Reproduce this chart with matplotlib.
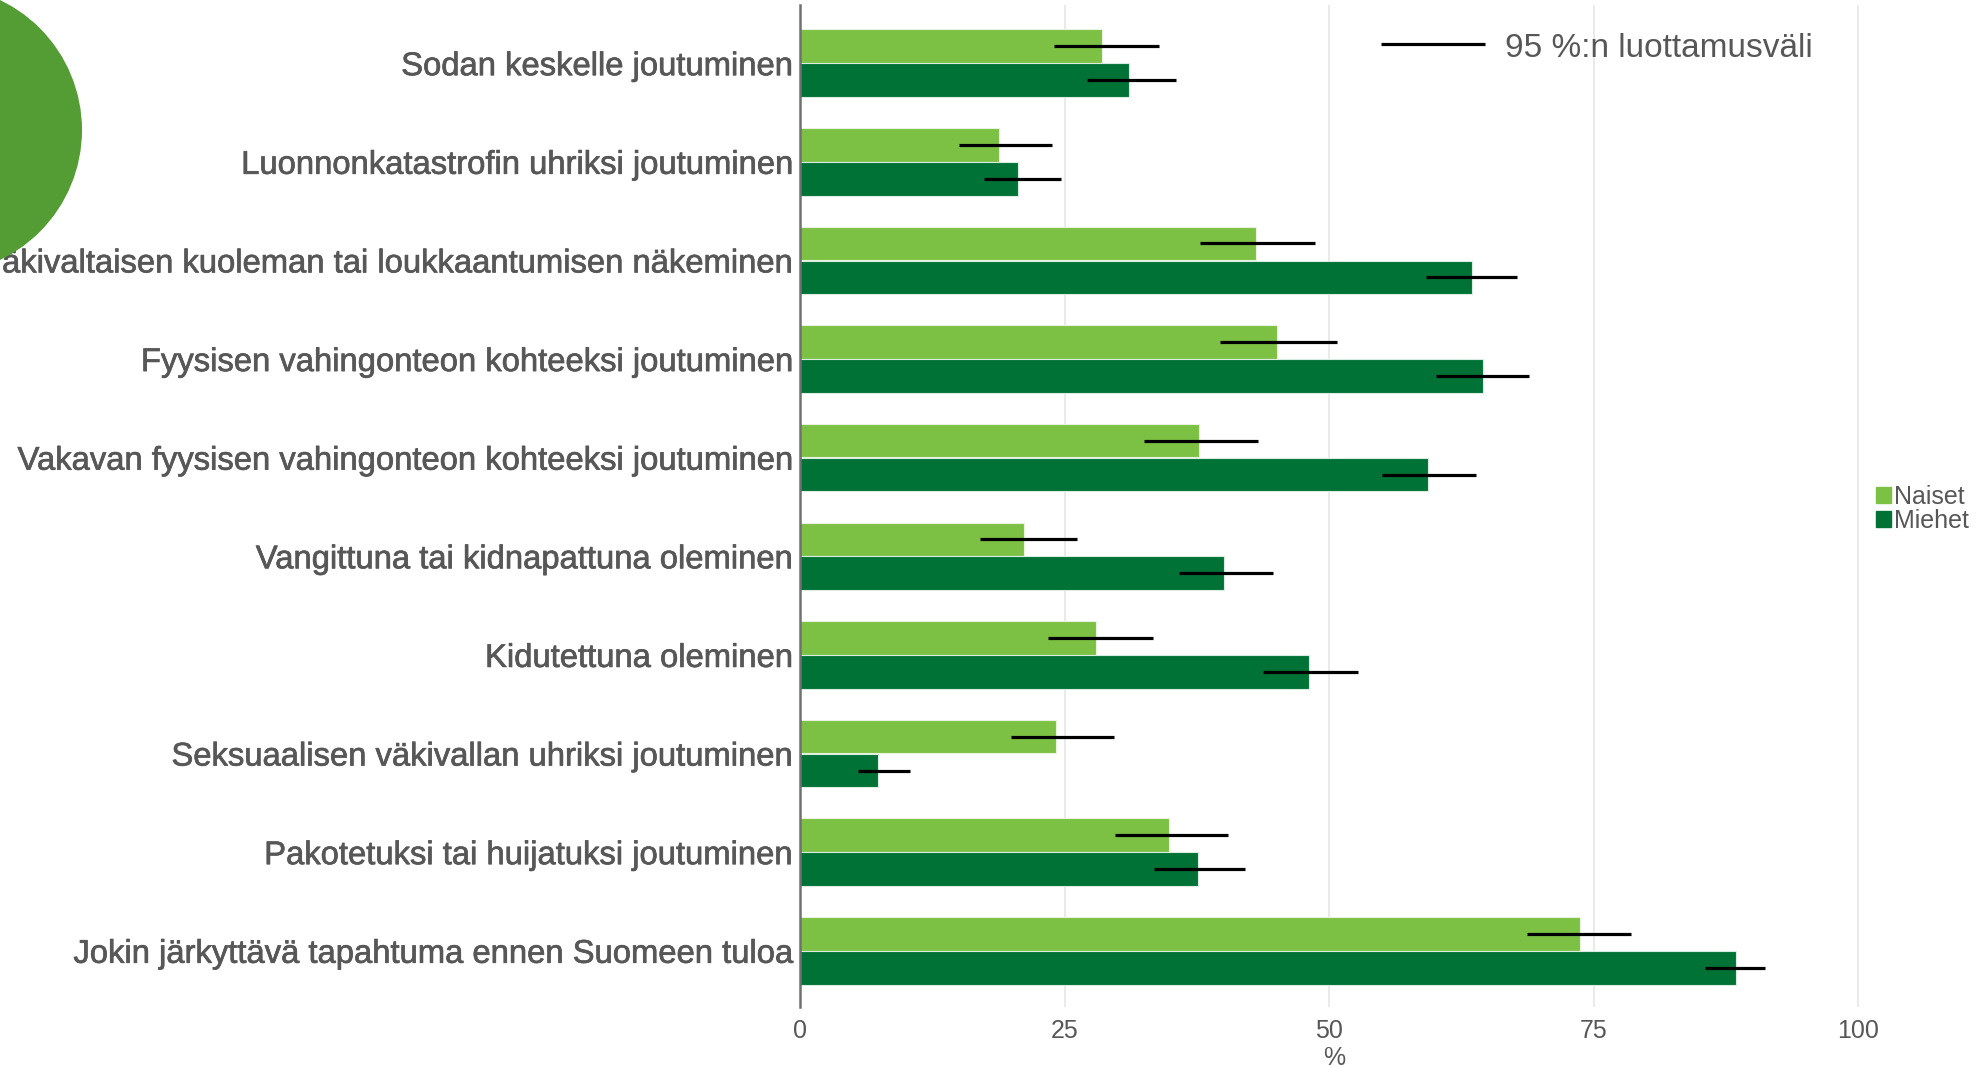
import matplotlib
matplotlib.use("Agg")
import matplotlib.pyplot as plt
import matplotlib.patheffects as pe
from matplotlib.patches import Ellipse, Patch
import numpy as np

# Tapahtumat (ylhäältä alas)
categories = [
    "Sodan keskelle joutuminen",
    "Luonnonkatastrofin uhriksi joutuminen",
    "Väkivaltaisen kuoleman tai loukkaantumisen näkeminen",
    "Fyysisen vahingonteon kohteeksi joutuminen",
    "Vakavan fyysisen vahingonteon kohteeksi joutuminen",
    "Vangittuna tai kidnapattuna oleminen",
    "Kidutettuna oleminen",
    "Seksuaalisen väkivallan uhriksi joutuminen",
    "Pakotetuksi tai huijatuksi joutuminen",
    "Jokin järkyttävä tapahtuma ennen Suomeen tuloa",
]

# Osuudet (%) ja 95 %:n luottamusvälit
naiset = [28.5, 18.8, 43.1, 45.1, 37.7, 21.2, 28.0, 24.2, 34.9, 73.7]
naiset_lo = [24.0, 15.0, 37.8, 39.7, 32.5, 17.0, 23.4, 19.9, 29.8, 68.7]
naiset_hi = [33.9, 23.8, 48.7, 50.8, 43.3, 26.2, 33.4, 29.7, 40.5, 78.5]

miehet = [31.1, 20.6, 63.5, 64.6, 59.4, 40.1, 48.1, 7.4, 37.6, 88.5]
miehet_lo = [27.1, 17.4, 59.2, 60.1, 55.0, 35.8, 43.8, 5.5, 33.5, 85.5]
miehet_hi = [35.5, 24.7, 67.8, 68.9, 63.9, 44.7, 52.7, 10.4, 42.1, 91.2]

xticks = [0, 25, 50, 75, 100]

light_green = "#7cc143"
dark_green = "#007236"
text_grey = "#575757"

plt.rcParams["font.family"] = ["Liberation Sans", "DejaVu Sans"]

W, H = 1987, 1067
fig = plt.figure(figsize=(W / 100, H / 100), dpi=100)

left_px, right_px, top_px, bottom_px = 800, 1868.6, 5, 1007
ax = fig.add_axes([left_px / W, 1 - bottom_px / H,
                   (right_px - left_px) / W, (bottom_px - top_px) / H])

y = np.arange(len(categories))
h = 0.34
off = 0.172

ax.barh(y - off, naiset, height=h, color=light_green, edgecolor="#e8f3df", linewidth=0.8, zorder=2)
ax.barh(y + off, miehet, height=h, color=dark_green, edgecolor="#d9ecdf", linewidth=0.8, zorder=2)

ax.hlines(y - off, naiset_lo, naiset_hi, color="black", lw=2.3, zorder=3)
ax.hlines(y + off, miehet_lo, miehet_hi, color="black", lw=2.3, zorder=3)

ax.set_xlim(0, 101)
ax.set_ylim(len(categories) - 1 + 0.57, -0.59)

bold_ish = [pe.withStroke(linewidth=0.5, foreground=text_grey)]

ax.set_yticks(y)
ax.set_yticklabels(categories, fontsize=23.6, color=text_grey)
for lab in ax.get_yticklabels():
    lab.set_path_effects(bold_ish)
ax.set_xticks(xticks)
ax.set_xticklabels([str(t) for t in xticks], fontsize=18, color=text_grey)
ax.tick_params(axis="both", length=0)
ax.tick_params(axis="y", pad=5)
ax.tick_params(axis="x", pad=9)
ax.set_xlabel("%", fontsize=18, color=text_grey, labelpad=2)

ax.grid(axis="x", color="#e6e6e6", lw=1.2, zorder=0)
ax.set_axisbelow(True)
for side in ["top", "right", "bottom"]:
    ax.spines[side].set_visible(False)
ax.spines["left"].set_color("#707070")
ax.spines["left"].set_linewidth(1.8)

# luottamusvälin selite
ax.plot([0.5437, 0.641], [0.961, 0.961], transform=ax.transAxes,
        color="black", lw=2.3, solid_capstyle="butt", clip_on=False)
ax.text(0.6597, 0.957, "95 %:n luottamusväli", transform=ax.transAxes,
        fontsize=24, color=text_grey, va="center", ha="left")

# sukupuolen selite
handles = [Patch(color=light_green, label="Naiset"),
           Patch(color=dark_green, label="Miehet")]
fig.legend(handles=handles, loc="center left",
           bbox_to_anchor=(1876 / W, 1 - 509 / H),
           frameon=False, fontsize=18, handlelength=0.58, handleheight=0.58,
           handletextpad=0.12, labelspacing=0.0, borderpad=0, borderaxespad=0,
           labelcolor=text_grey)

# vihreä koristepallo vasemmassa yläkulmassa
fig.patches.append(Ellipse((-62 / W, 1 - 130 / H), 288 / W, 288 / H,
                           transform=fig.transFigure, facecolor="#549d34",
                           edgecolor="none", zorder=5))

fig.savefig("out.png", dpi=100)
